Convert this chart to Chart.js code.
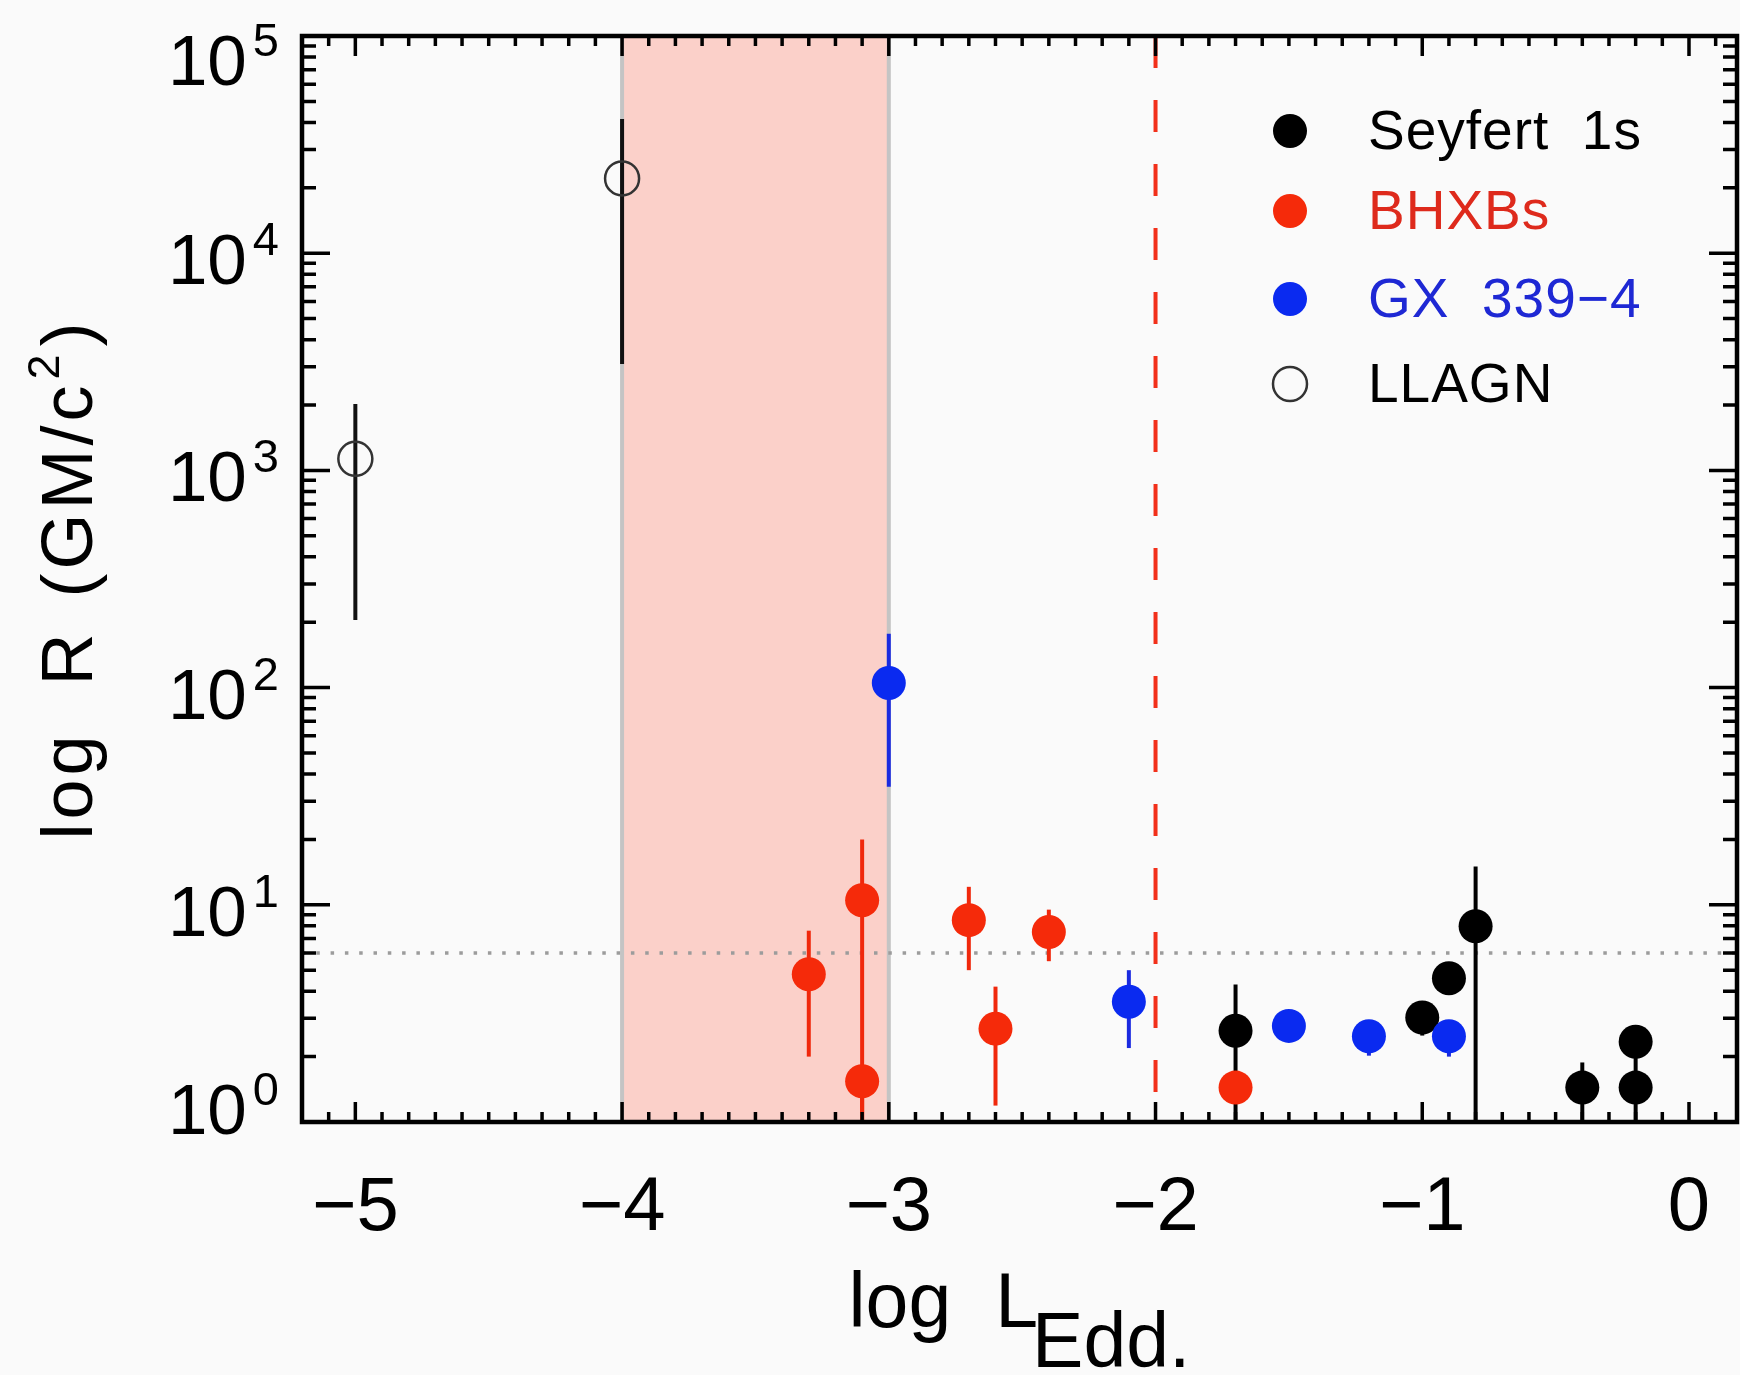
<!DOCTYPE html>
<html>
<head>
<meta charset="utf-8">
<title>log R vs log L_Edd</title>
<script src="https://cdn.jsdelivr.net/npm/chart.js@4.4.1/dist/chart.umd.min.js"></script>
<style>
    html, body { margin: 0; padding: 0; background: #fafafa; }
    #wrap { width: 1740px; height: 1375px; position: relative; }
</style>
</head>
<body>
<div id="wrap"><canvas id="chart"></canvas></div>
<script>
// ---- data ----
const seyfertX  = [-1.7, -1.0, -0.9, -0.8, -0.4, -0.2, -0.2];
const seyfertY  = [2.63, 3.03, 4.59, 7.96, 1.44, 2.34, 1.44];
const seyfertLo = [1.0, 2.5, 4.59, 1.0, 1.0, 1.44, 1.0];
const seyfertHi = [4.3, 3.03, 4.59, 15.0, 1.88, 2.34, 1.44];

const bhxbX  = [-3.3, -3.1, -3.1, -2.7, -2.6, -2.4, -1.7];
const bhxbY  = [4.79, 10.5, 1.54, 8.5, 2.69, 7.5, 1.44];
const bhxbLo = [2.0, 1.0, 1.0, 5.0, 1.19, 5.5, 1.44];
const bhxbHi = [7.6, 20.0, 1.54, 12.1, 4.2, 9.5, 1.44];

const gxX  = [-3.0, -2.1, -1.5, -1.2, -0.9];
const gxY  = [105, 3.58, 2.77, 2.48, 2.48];
const gxLo = [35, 2.19, 2.77, 2.02, 2.0];
const gxHi = [177, 5.0, 2.77, 2.48, 2.48];

const llagnX  = [-5.0, -4.0];
const llagnY  = [1130, 22100];
const llagnLo = [205, 3090];
const llagnHi = [2020, 41500];

const xTicks = [-5, -4, -3, -2, -1, 0];
const xTickLabels = ['\u22125', '\u22124', '\u22123', '\u22122', '\u22121', '0'];
const yTickExps = [0, 1, 2, 3, 4, 5];
const bandRange = [-4, -3];
const dashedX = -2;
const iscoR = 6;

const FONT = "'Liberation Sans', Arial, sans-serif";

function toPoints(xs, ys) {
    return xs.map((x, i) => ({ x: x, y: ys[i] }));
}

// rows of text pieces: [text, size, dy, gapBefore]
function richWidth(ctx, parts) {
    let w = 0;
    parts.forEach(p => {
        ctx.font = p[1] + 'px ' + FONT;
        w += p[3] + ctx.measureText(p[0]).width;
    });
    return w;
}
function drawRich(ctx, parts, x0, y0) {
    let x = x0;
    parts.forEach(p => {
        ctx.font = p[1] + 'px ' + FONT;
        x += p[3];
        ctx.fillText(p[0], x, y0 + p[2]);
        x += ctx.measureText(p[0]).width;
    });
}

const decor = {
    id: 'decor',
    beforeDatasetsDraw(chart) {
        const { ctx, chartArea: a, scales: { x, y } } = chart;
        ctx.save();
        ctx.beginPath();
        ctx.rect(a.left, a.top, a.right - a.left, a.bottom - a.top);
        ctx.clip();

        // shaded band
        const b0 = x.getPixelForValue(bandRange[0]);
        const b1 = x.getPixelForValue(bandRange[1]);
        ctx.fillStyle = '#fbd0c9';
        ctx.fillRect(b0, a.top, b1 - b0, a.bottom - a.top);
        ctx.strokeStyle = '#c4c4c4';
        ctx.lineWidth = 4;
        [b0, b1].forEach(px => {
            ctx.beginPath();
            ctx.moveTo(px, a.top);
            ctx.lineTo(px, a.bottom);
            ctx.stroke();
        });

        // dotted horizontal line at R = 6
        const py = y.getPixelForValue(iscoR);
        ctx.strokeStyle = '#9c9c9c';
        ctx.lineWidth = 3.5;
        ctx.setLineDash([3.5, 10.8]);
        ctx.beginPath();
        ctx.moveTo(a.left, py);
        ctx.lineTo(a.right, py);
        ctx.stroke();

        // dashed red vertical line
        const dx = x.getPixelForValue(dashedX);
        ctx.strokeStyle = '#f2301a';
        ctx.lineWidth = 4;
        ctx.setLineDash([32, 32]);
        ctx.beginPath();
        ctx.moveTo(dx, a.top);
        ctx.lineTo(dx, a.bottom);
        ctx.stroke();
        ctx.setLineDash([]);

        // error bars
        chart.data.datasets.forEach(ds => {
            ctx.strokeStyle = ds.errColor;
            ctx.lineWidth = 4;
            ds.data.forEach((p, i) => {
                const lo = ds.errLo[i], hi = ds.errHi[i];
                if (lo === hi) return;
                const px = x.getPixelForValue(p.x);
                ctx.beginPath();
                ctx.moveTo(px, y.getPixelForValue(lo));
                ctx.lineTo(px, y.getPixelForValue(hi));
                ctx.stroke();
            });
        });
        ctx.restore();
    },
    afterDraw(chart) {
        const { ctx, chartArea: a, scales: { x, y } } = chart;
        ctx.save();

        // frame
        ctx.strokeStyle = '#000';
        ctx.lineWidth = 4.5;
        ctx.strokeRect(a.left, a.top, a.right - a.left, a.bottom - a.top);

        // x ticks (bottom and top)
        ctx.lineWidth = 3.5;
        for (let k = Math.ceil(x.min * 10); k <= Math.floor(x.max * 10); k++) {
            const px = x.getPixelForValue(k / 10);
            const len = (k % 10 === 0) ? 20 : 10;
            ctx.beginPath();
            ctx.moveTo(px, a.bottom);
            ctx.lineTo(px, a.bottom - len);
            ctx.moveTo(px, a.top);
            ctx.lineTo(px, a.top + len);
            ctx.stroke();
        }

        // y ticks (left and right), log minors
        for (let e = 0; e < 5; e++) {
            for (let m = 1; m <= 9; m++) {
                const py = y.getPixelForValue(m * Math.pow(10, e));
                const len = (m === 1) ? 28 : 14;
                ctx.beginPath();
                ctx.moveTo(a.left, py);
                ctx.lineTo(a.left + len, py);
                ctx.moveTo(a.right, py);
                ctx.lineTo(a.right - len, py);
                ctx.stroke();
            }
        }

        ctx.fillStyle = '#000';

        // x tick labels
        ctx.textAlign = 'center';
        ctx.textBaseline = 'alphabetic';
        ctx.font = '76px ' + FONT;
        xTicks.forEach((v, i) => {
            ctx.fillText(xTickLabels[i], x.getPixelForValue(v), a.bottom + 108);
        });

        // y tick labels 10^n
        ctx.textAlign = 'right';
        yTickExps.forEach(e => {
            const py = y.getPixelForValue(Math.pow(10, e));
            const mid = Math.min(Math.max(py + 6, a.top + 24), a.bottom - 13);
            const base = mid + 25;
            const supRight = a.left - 23;
            ctx.font = '47px ' + FONT;
            const supW = ctx.measureText(String(e)).width;
            ctx.fillText(String(e), supRight, base - 29);
            ctx.font = '71px ' + FONT;
            ctx.fillText('10', supRight - supW - 6, base);
        });

        // x axis title
        ctx.textAlign = 'left';
        const xParts = [['log', 77, 0, 0], ['L', 77, 0, 44], ['Edd.', 77, 40, -6]];
        const xw = richWidth(ctx, xParts);
        drawRich(ctx, xParts, (a.left + a.right) / 2 - xw / 2, a.bottom + 205);

        // y axis title (rotated)
        ctx.save();
        ctx.translate(92, (a.top + a.bottom) / 2);
        ctx.rotate(-Math.PI / 2);
        ctx.letterSpacing = '4px';
        const yParts = [['log', 72, 0, 0], ['R', 72, 0, 46], ['(GM/c', 72, 0, 32], ['2', 45, -33, 2], [')', 72, 0, 4]];
        const yw = richWidth(ctx, yParts);
        drawRich(ctx, yParts, -yw / 2, 0);
        ctx.restore();

        // legend
        const rows = [
            { label: 'Seyfert  1s', fill: '#000000', text: '#000000', open: false },
            { label: 'BHXBs', fill: '#f52a0a', text: '#de2a1c', open: false },
            { label: 'GX  339\u22124', fill: '#0a2af0', text: '#1e28d4', open: false },
            { label: 'LLAGN', fill: null, text: '#000000', open: true }
        ];
        ctx.letterSpacing = '1px';
        ctx.font = '55px ' + FONT;
        const rowY = [131, 211, 299, 384];
        rows.forEach((r, i) => {
            const cy = rowY[i];
            ctx.beginPath();
            ctx.arc(1290, cy, 17, 0, Math.PI * 2);
            if (r.open) {
                ctx.strokeStyle = '#333';
                ctx.lineWidth = 2.5;
                ctx.stroke();
            } else {
                ctx.fillStyle = r.fill;
                ctx.fill();
            }
            ctx.fillStyle = r.text;
            ctx.fillText(r.label, 1368, cy + 18);
        });
        ctx.restore();
    }
};

const ctx = document.getElementById('chart').getContext('2d');

new Chart(ctx, {
    type: 'scatter',
    data: {
        datasets: [
            {
                label: 'Seyfert 1s',
                data: toPoints(seyfertX, seyfertY),
                errLo: seyfertLo, errHi: seyfertHi, errColor: '#000000',
                backgroundColor: '#000000',
                borderWidth: 0,
                pointRadius: 17,
                order: 1
            },
            {
                label: 'BHXBs',
                data: toPoints(bhxbX, bhxbY),
                errLo: bhxbLo, errHi: bhxbHi, errColor: '#f0280c',
                backgroundColor: '#f52a0a',
                borderWidth: 0,
                pointRadius: 17,
                order: 1
            },
            {
                label: 'GX 339-4',
                data: toPoints(gxX, gxY),
                errLo: gxLo, errHi: gxHi, errColor: '#1a2ae0',
                backgroundColor: '#0a2af0',
                borderWidth: 0,
                pointRadius: 17,
                order: 0
            },
            {
                label: 'LLAGN',
                data: toPoints(llagnX, llagnY),
                errLo: llagnLo, errHi: llagnHi, errColor: '#111111',
                backgroundColor: 'rgba(0,0,0,0)',
                borderColor: '#333333',
                borderWidth: 2.5,
                pointRadius: 17,
                order: 2
            }
        ]
    },
    options: {
        responsive: true,
        maintainAspectRatio: false,
        animation: false,
        events: [],
        layout: {
            autoPadding: false,
            padding: { left: 302, top: 36, right: 3, bottom: 253 }
        },
        plugins: {
            legend: { display: false },
            tooltip: { enabled: false }
        },
        scales: {
            x: {
                type: 'linear',
                min: -5.2,
                max: 0.18,
                display: false
            },
            y: {
                type: 'logarithmic',
                min: 1,
                max: 100000,
                display: false
            }
        }
    },
    plugins: [decor]
});
</script>
</body>
</html>
